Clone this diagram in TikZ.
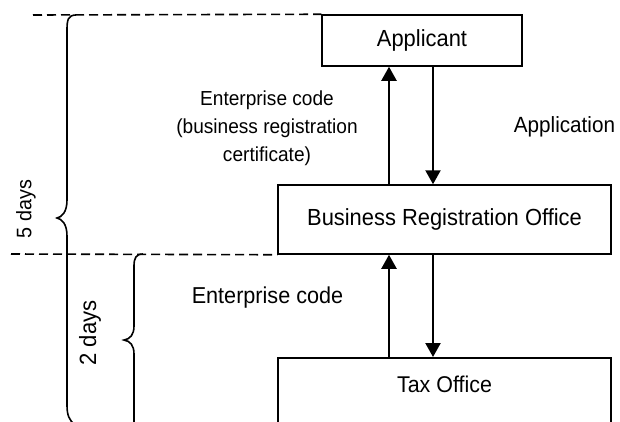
\documentclass[tikz,border=0pt]{standalone}
\usepackage{fontspec}
\setmainfont[FakeStretch=0.94]{Liberation Sans}
\usetikzlibrary{arrows.meta,calc}
\tikzset{
  box/.style={draw, line width=1.5pt, rectangle, inner sep=0pt},
  arr/.style={line width=2.2pt, -{Triangle[length=14pt,width=15pt]}},
  sep/.style={line width=1.6pt, dash pattern=on 9pt off 5pt},
  brace/.style={line width=1.6pt},
  lbl/.style={inner sep=0pt, align=center},
}
\begin{document}
\begin{tikzpicture}[x=1pt,y=-1pt]
\useasboundingbox (0,0) rectangle (620,421);
% boxes
\node[box, minimum width=200pt, minimum height=51pt, font=\fontsize{23.3}{28}\selectfont] (app) at (422,40.5) {Applicant};
\node[box, minimum width=333pt, minimum height=69pt, font=\fontsize{23.3}{28}\selectfont] (bro) at (444.5,219.5) {Business Registration Office};
\node[box, minimum width=333pt, minimum height=120pt, anchor=north] (tax) at (444.5,357) {};
\node[lbl, font=\fontsize{22.8}{28}\selectfont] (taxt) at (444.5,384) {Tax Office};
% arrow columns
\coordinate (xu) at (389,0);
\coordinate (xd) at (433,0);
\draw[arr] (bro.north -| xu) -- (app.south -| xu);
\draw[arr] (app.south -| xd) -- (bro.north -| xd);
\draw[arr] (tax.north -| xu) -- (bro.south -| xu);
\draw[arr] (bro.south -| xd) -- (tax.north -| xd);
% dashed separators
\coordinate (d1) at (33,15);
\coordinate (d2) at (11,254);
\draw[sep] (d1) -- (app.north west);
\draw[sep] (d2) -- (bro.south west);
% labels
\node[lbl, font=\fontsize{20.3}{28}\selectfont] (l1) at (267,128) {Enterprise code\\(business registration\\certificate)};
\node[lbl, font=\fontsize{22}{28}\selectfont] (l2) at (564.5,127) {Application};
\node[lbl, font=\fontsize{23}{28}\selectfont] (l3) at (267.5,298) {Enterprise code};
\node[lbl, rotate=90, font=\fontsize{21}{26}\selectfont] (l4) at (26,209) {5 days};
\node[lbl, rotate=90, font=\fontsize{23.5}{28}\selectfont] (l5) at (90,333) {2 days};
% braces
\draw[brace] (76,15) .. controls (68,15) and (67,20) .. (67,30)
  -- (67,200) .. controls (67,212) and (62,217) .. (57,218)
  .. controls (62,219) and (67,224) .. (67,236)
  -- (67,405) .. controls (67,415) and (69,420) .. (75,425);
\draw[brace] (143,254) .. controls (136,254) and (134,258) .. (134,266)
  -- (134,326) .. controls (134,335) and (130,339) .. (124,340)
  .. controls (130,341) and (134,345) .. (134,354)
  -- (134,430);
\end{tikzpicture}
\end{document}
